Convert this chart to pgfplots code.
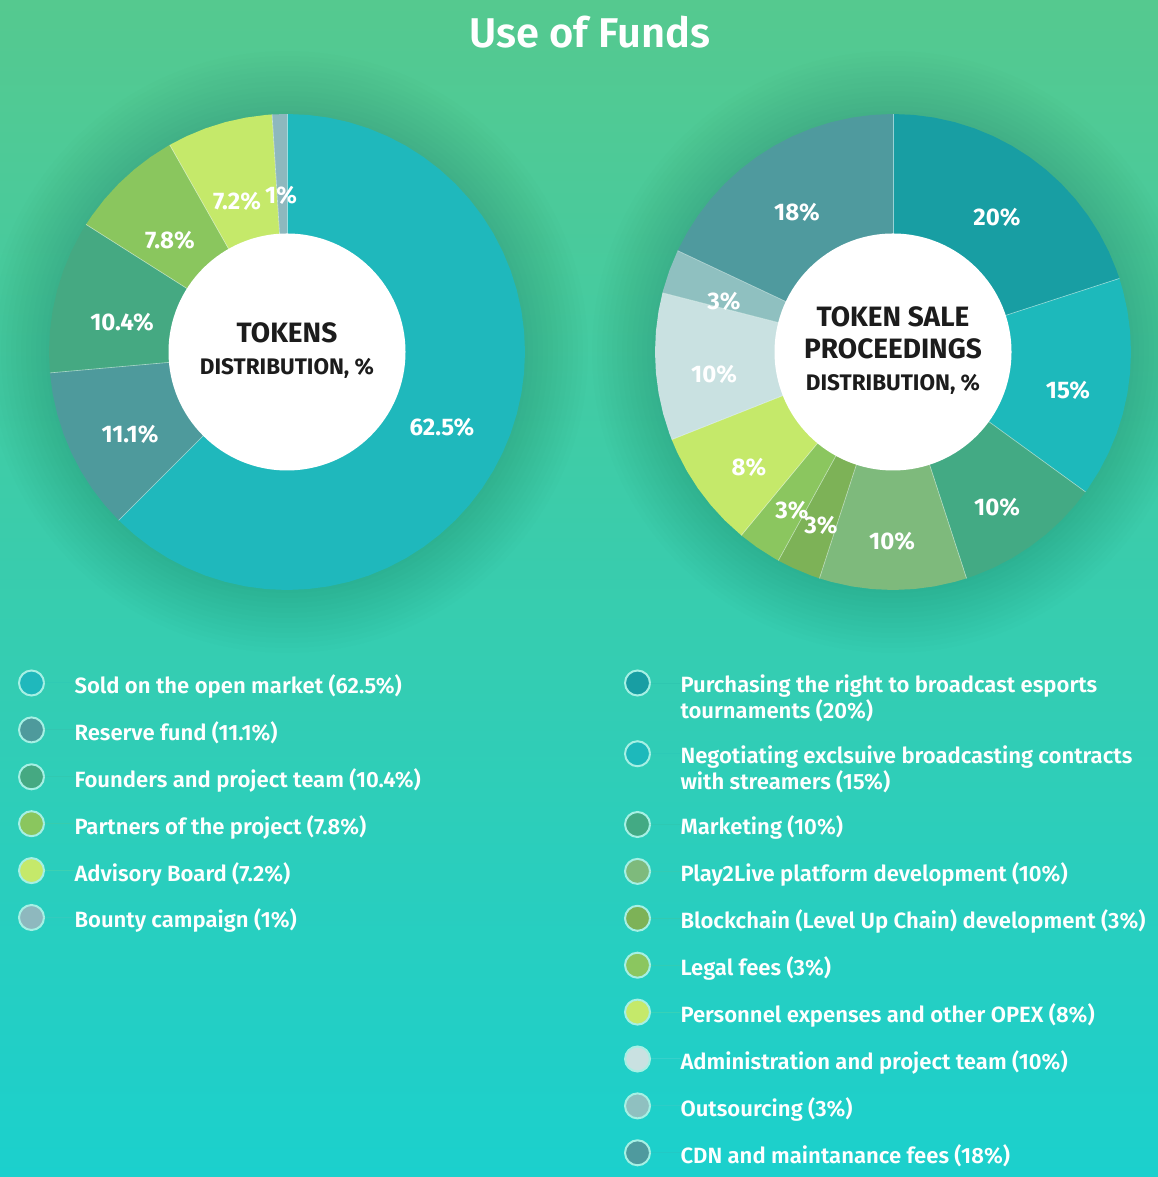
\documentclass[border=0pt]{standalone}
\usepackage{pgfplots}
\pgfplotsset{compat=1.18}
\usepgfplotslibrary{polar}
\usepackage{fontspec}
\setmainfont{Fira Sans}
\IfFontExistsTF{Fira Sans SemiBold}
  {\newfontfamily\semib{Fira Sans SemiBold}}
  {\newfontfamily\semib{Fira Sans}[UprightFont=*Bold]}
\newcommand{\xdep}[1]{\rule[-#1]{0pt}{1pt}}

\definecolor{bgtop}{HTML}{55C98F}
\definecolor{bgmid}{HTML}{38CCAB}
\definecolor{bgbot}{HTML}{1BD0CD}
\definecolor{shad}{HTML}{14583C}
\definecolor{legring}{HTML}{A6F0E4}
\definecolor{ctext}{HTML}{1C1C1C}
% left
\definecolor{cSold}{HTML}{1FB8BC}
\definecolor{cReserve}{HTML}{4E9A9C}
\definecolor{cFounders}{HTML}{45A982}
\definecolor{cPartners}{HTML}{8AC65E}
\definecolor{cAdvisory}{HTML}{C5E96A}
\definecolor{cBounty}{HTML}{8EB8BE}
% right
\definecolor{cPurch}{HTML}{189EA3}
\definecolor{cNegot}{HTML}{1DB9BB}
\definecolor{cMarket}{HTML}{43AA84}
\definecolor{cPlay}{HTML}{7EBA7C}
\definecolor{cBlock}{HTML}{7DB257}
\definecolor{cLegal}{HTML}{8BC65F}
\definecolor{cPerson}{HTML}{C5E96A}
\definecolor{cAdmin}{HTML}{C9E1E1}
\definecolor{cOuts}{HTML}{8FC0C0}
\definecolor{cCDN}{HTML}{4F9A9E}

\pgfplotsset{
  donut/.style={
    scale only axis, width=476pt, height=476pt,
    xmin=0, xmax=360, ymin=0, ymax=1,
    hide axis, clip=false,
    legend image code/.code={%
      \draw[##1,draw=legring,line width=2pt] (0pt,-8.4pt) circle (12.5pt);
      \path (0pt,-8.4pt) -- (43pt,-8.4pt);},
    legend style={
      at={(-0.0651,-0.167)}, anchor=north west,
      draw=none, fill=none, inner sep=0pt, outer sep=0pt,
      row sep=19.9pt,
      nodes={anchor=north west, align=left, inner sep=0pt, text=white,
             font=\fontsize{22.1}{22}\selectfont\semib},
    },
  },
  slice/.style={draw=none, fill=#1},
  sep/.style={white, opacity=0.55, line width=0.6pt, forget plot},
}

\begin{document}
\begin{tikzpicture}
\begin{scope}[x=1pt,y=1pt]
\useasboundingbox (0,0) rectangle (1158,1177);
\shade[top color=bgtop, middle color=bgmid, bottom color=bgbot] (0,0) rectangle (1158,1177);
% soft shadows around the donuts
\foreach \r in {241,246,...,301} {
  \fill[shad, opacity=0.012] (287,825) circle (\r);
  \fill[shad, opacity=0.012] (893,825) circle (\r);
}
\node[text=white, font=\fontsize{41.6}{46}\selectfont\semib] at (590,1145) {Use of Funds};
\end{scope}

% ---------------- left donut: tokens distribution ----------------
\begin{polaraxis}[donut, at={(287pt,825pt)}, anchor=center]
% Sold on the open market 62.5%
\addplot[slice=cSold] coordinates {(90,0) (90,1) (85,1) (80,1) (75,1) (70,1) (65,1) (60,1) (55,1) (50,1) (45,1) (40,1) (35,1) (30,1) (25,1) (20,1) (15,1) (10,1) (5,1) (0,1) (-5,1) (-10,1) (-15,1) (-20,1) (-25,1) (-30,1) (-35,1) (-40,1) (-45,1) (-50,1) (-55,1) (-60,1) (-65,1) (-70,1) (-75,1) (-80,1) (-85,1) (-90,1) (-95,1) (-100,1) (-105,1) (-110,1) (-115,1) (-120,1) (-125,1) (-130,1) (-135,1) (-135,0)};
\addlegendentry{\strut Sold on the open market (62.5\%)}
% Reserve fund 11.1%
\addplot[slice=cReserve] coordinates {(-135,0) (-135,1) (-140,1) (-145,1) (-150,1) (-155,1) (-160,1) (-165,1) (-170,1) (-174.96,1) (-174.96,0)};
\addlegendentry{\strut Reserve fund (11.1\%)}
% Founders 10.4%
\addplot[slice=cFounders] coordinates {(-174.96,0) (-174.96,1) (-180,1) (-185,1) (-190,1) (-195,1) (-200,1) (-205,1) (-210,1) (-212.4,1) (-212.4,0)};
\addlegendentry{\strut Founders and project team (10.4\%)}
% Partners 7.8%
\addplot[slice=cPartners] coordinates {(-212.4,0) (-212.4,1) (-215,1) (-220,1) (-225,1) (-230,1) (-235,1) (-240,1) (-240.48,1) (-240.48,0)};
\addlegendentry{\strut Partners of the project (7.8\%)}
% Advisory 7.2%
\addplot[slice=cAdvisory] coordinates {(-240.48,0) (-240.48,1) (-245,1) (-250,1) (-255,1) (-260,1) (-265,1) (-266.4,1) (-266.4,0)};
\addlegendentry{\strut Advisory Board (7.2\%)}
% Bounty 1%
\addplot[slice=cBounty] coordinates {(-266.4,0) (-266.4,1) (-270,1) (-270,0)};
\addlegendentry{\strut Bounty campaign (1\%)}
\addplot[sep] coordinates {(-135,0) (-135,1)};
\addplot[sep] coordinates {(-174.96,0) (-174.96,1)};
\addplot[sep] coordinates {(-212.4,0) (-212.4,1)};
\addplot[sep] coordinates {(-240.48,0) (-240.48,1)};
\addplot[sep] coordinates {(-266.4,0) (-266.4,1)};
\addplot[sep] coordinates {(90,0) (90,1)};
\end{polaraxis}

% ---------------- right donut: token sale proceedings ----------------
\begin{polaraxis}[donut, at={(893pt,825pt)}, anchor=center]
\addplot[slice=cPurch] coordinates {(90,0) (90,1) (85,1) (80,1) (75,1) (70,1) (65,1) (60,1) (55,1) (50,1) (45,1) (40,1) (35,1) (30,1) (25,1) (20,1) (18,1) (18,0)};
\addlegendentry{\strut Purchasing the right to broadcast esports\\\strut tournaments (20\%)\xdep{11.2pt}}
\addplot[slice=cNegot] coordinates {(18,0) (18,1) (15,1) (10,1) (5,1) (0,1) (-5,1) (-10,1) (-15,1) (-20,1) (-25,1) (-30,1) (-35,1) (-36,1) (-36,0)};
\addlegendentry{\strut Negotiating exclsuive broadcasting contracts\\\strut with streamers (15\%)\xdep{9.2pt}}
\addplot[slice=cMarket] coordinates {(-36,0) (-36,1) (-40,1) (-45,1) (-50,1) (-55,1) (-60,1) (-65,1) (-70,1) (-72,1) (-72,0)};
\addlegendentry{\strut Marketing (10\%)}
\addplot[slice=cPlay] coordinates {(-72,0) (-72,1) (-75,1) (-80,1) (-85,1) (-90,1) (-95,1) (-100,1) (-105,1) (-108,1) (-108,0)};
\addlegendentry{\strut Play2Live platform development (10\%)}
\addplot[slice=cBlock] coordinates {(-108,0) (-108,1) (-110,1) (-115,1) (-118.8,1) (-118.8,0)};
\addlegendentry{\strut Blockchain (Level Up Chain) development (3\%)}
\addplot[slice=cLegal] coordinates {(-118.8,0) (-118.8,1) (-120,1) (-125,1) (-129.6,1) (-129.6,0)};
\addlegendentry{\strut Legal fees (3\%)}
\addplot[slice=cPerson] coordinates {(-129.6,0) (-129.6,1) (-135,1) (-140,1) (-145,1) (-150,1) (-155,1) (-158.4,1) (-158.4,0)};
\addlegendentry{\strut Personnel expenses and other OPEX (8\%)}
\addplot[slice=cAdmin] coordinates {(-158.4,0) (-158.4,1) (-160,1) (-165,1) (-170,1) (-175,1) (-180,1) (-185,1) (-190,1) (-194.4,1) (-194.4,0)};
\addlegendentry{\strut Administration and project team (10\%)}
\addplot[slice=cOuts] coordinates {(-194.4,0) (-194.4,1) (-195,1) (-200,1) (-205,1) (-205.2,1) (-205.2,0)};
\addlegendentry{\strut Outsourcing (3\%)}
\addplot[slice=cCDN] coordinates {(-205.2,0) (-205.2,1) (-210,1) (-215,1) (-220,1) (-225,1) (-230,1) (-235,1) (-240,1) (-245,1) (-250,1) (-255,1) (-260,1) (-265,1) (-270,1) (-270,0)};
\addlegendentry{\strut CDN and maintanance fees (18\%)}
\addplot[sep] coordinates {(90,0) (90,1)};
\addplot[sep] coordinates {(18,0) (18,1)};
\addplot[sep] coordinates {(-36,0) (-36,1)};
\addplot[sep] coordinates {(-72,0) (-72,1)};
\addplot[sep] coordinates {(-108,0) (-108,1)};
\addplot[sep] coordinates {(-118.8,0) (-118.8,1)};
\addplot[sep] coordinates {(-129.6,0) (-129.6,1)};
\addplot[sep] coordinates {(-158.4,0) (-158.4,1)};
\addplot[sep] coordinates {(-194.4,0) (-194.4,1)};
\addplot[sep] coordinates {(-205.2,0) (-205.2,1)};
\end{polaraxis}

\begin{scope}[x=1pt,y=1pt]
% donut holes
\fill[white] (287,825) circle (118.5);
\fill[white] (893,825) circle (118.5);
% centre captions
\node[text=ctext, font=\fontsize{28}{32}\selectfont\bfseries] at (287,844) {TOKENS};
\node[text=ctext, font=\fontsize{22.5}{26}\selectfont\bfseries] at (287,809) {DISTRIBUTION, \%};
\node[text=ctext, font=\fontsize{28}{32}\selectfont\bfseries] at (893,860) {TOKEN SALE};
\node[text=ctext, font=\fontsize{28}{32}\selectfont\bfseries] at (893,828) {PROCEEDINGS};
\node[text=ctext, font=\fontsize{22.5}{26}\selectfont\bfseries] at (893,793) {DISTRIBUTION, \%};
% slice labels
\begin{scope}[every node/.style={text=white, font=\fontsize{24}{28}\selectfont\bfseries}]
\node at (442,750) {62.5\%};
\node at (130,743) {11.1\%};
\node at (122,855) {10.4\%};
\node at (170,937) {7.8\%};
\node at (237,976) {7.2\%};
\node at (281,982) {1\%};
\node at (997,960) {20\%};
\node at (1068,787) {15\%};
\node at (997,670) {10\%};
\node at (892,636) {10\%};
\node at (821,652) {3\%};
\node at (792,667) {3\%};
\node at (749,710) {8\%};
\node at (714,803) {10\%};
\node at (724,876) {3\%};
\node at (797,965) {18\%};
\end{scope}
\end{scope}
\end{tikzpicture}
\end{document}
